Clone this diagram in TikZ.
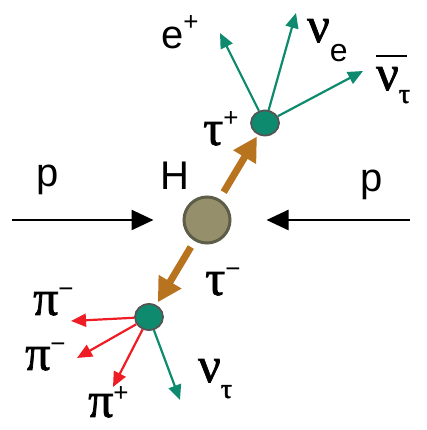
\documentclass[tikz,border=0pt]{standalone}
\usepackage{fontspec}
\setmainfont{Liberation Sans}
\newfontfamily\grk[FakeBold=1.5]{Liberation Serif}
\usetikzlibrary{arrows.meta,shapes.geometric}
\definecolor{teal1}{HTML}{0E8A6E}
\definecolor{hfill}{HTML}{958F6C}
\definecolor{hbord}{HTML}{5E5D48}
\definecolor{brn}{HTML}{B8731F}
\definecolor{redp}{HTML}{EE1C25}
\definecolor{gbord}{HTML}{555555}
\newcommand\gk[1]{{\fontsize{50}{50}\selectfont\grk #1}}
\newcommand\upx[2]{\raisebox{#1pt}{\fontsize{26}{26}\selectfont #2}}
\newcommand\dnx[3]{\raisebox{-#1pt}{\fontsize{#2}{#2}\selectfont #3}}
\begin{document}
\begin{tikzpicture}[x=1pt,y=1pt,
  lbl/.style={inner sep=0pt,anchor=base west,font=\fontsize{40}{40}\selectfont},
  vtx/.style={ellipse,draw=gbord,line width=1.8pt,fill=teal1,minimum width=28pt,minimum height=25pt,inner sep=0pt},
  tarr/.style={draw=teal1,line width=2.2pt,-{Triangle[length=15pt,width=13pt]}},
  rarr/.style={draw=redp,line width=2.2pt,-{Triangle[length=15pt,width=13pt]}},
  parr/.style={draw=black,line width=2.5pt,-{Triangle[length=22pt,width=20pt]}},
  barr/.style={draw=brn,line width=7pt,-{Triangle[length=24pt,width=25pt]}}]
\useasboundingbox (0,0) rectangle (427,430);
% central H
\node[circle,draw=hbord,line width=3pt,fill=hfill,minimum size=46pt,inner sep=0pt] (H) at (207,210) {};
\node[vtx] (tp) at (265,307) {};
\node[vtx,minimum height=26pt] (tm) at (149,113) {};
% incoming protons
\coordinate (pL) at (12,210);
\coordinate (pR) at (410,210);
\draw[parr,shorten >=29pt] (pL) -- (H);
\draw[parr,shorten >=35pt] (pR) -- (H);
% taus
\draw[barr,shorten <=8pt,shorten >=2pt] (H) -- (tp);
\draw[barr,shorten <=7pt,shorten >=3pt] (H) -- (tm);
% tau+ decay
\coordinate (ep) at (220,397);
\coordinate (ne) at (296,417);
\coordinate (nb) at (363,359);
\draw[tarr] (tp) -- (ep);
\draw[tarr] (tp) -- (ne);
\draw[tarr] (tp) -- (nb);
% tau- decay
\coordinate (pi1) at (71,109);
\coordinate (pi2) at (77,72);
\coordinate (pi3) at (113,43);
\coordinate (nt) at (180,30);
\draw[rarr] (tm) -- (pi1);
\draw[rarr] (tm) -- (pi2);
\draw[rarr] (tm) -- (pi3);
\draw[tarr] (tm) -- (nt);
% labels
\node[lbl] (lpL) at (36,243) {p};
\node[lbl] (lpR) at (360,238) {p};
\node[lbl] (lH) at (160,240) {H};
\node[lbl] (le) at (161,381) {e\upx{18}{+}};
\node[lbl] (lne) at (307,388) {\gk{ν}\dnx{20}{32}{e}};
\node[lbl] (lnb) at (376,340) {\makebox[0pt][l]{\raisebox{33pt}{\rule{31pt}{2pt}}}\gk{ν}\dnx{13}{28}{\grk τ}};
\node[lbl] (ltp) at (203,285) {\gk{τ}\upx{18}{+}};
\node[lbl] (ltm) at (205,135) {\gk{τ}\upx{17}{−}};
\node[lbl] (lpi1) at (33,115) {\gk{π}\upx{17}{−}};
\node[lbl] (lpi2) at (25,60) {\gk{π}\upx{17}{−}};
\node[lbl] (lpi3) at (88,13) {\gk{π}\upx{15}{+}};
\node[lbl] (lnt) at (198,48) {\gk{ν}\dnx{16}{28}{\grk τ}};
\end{tikzpicture}
\end{document}
